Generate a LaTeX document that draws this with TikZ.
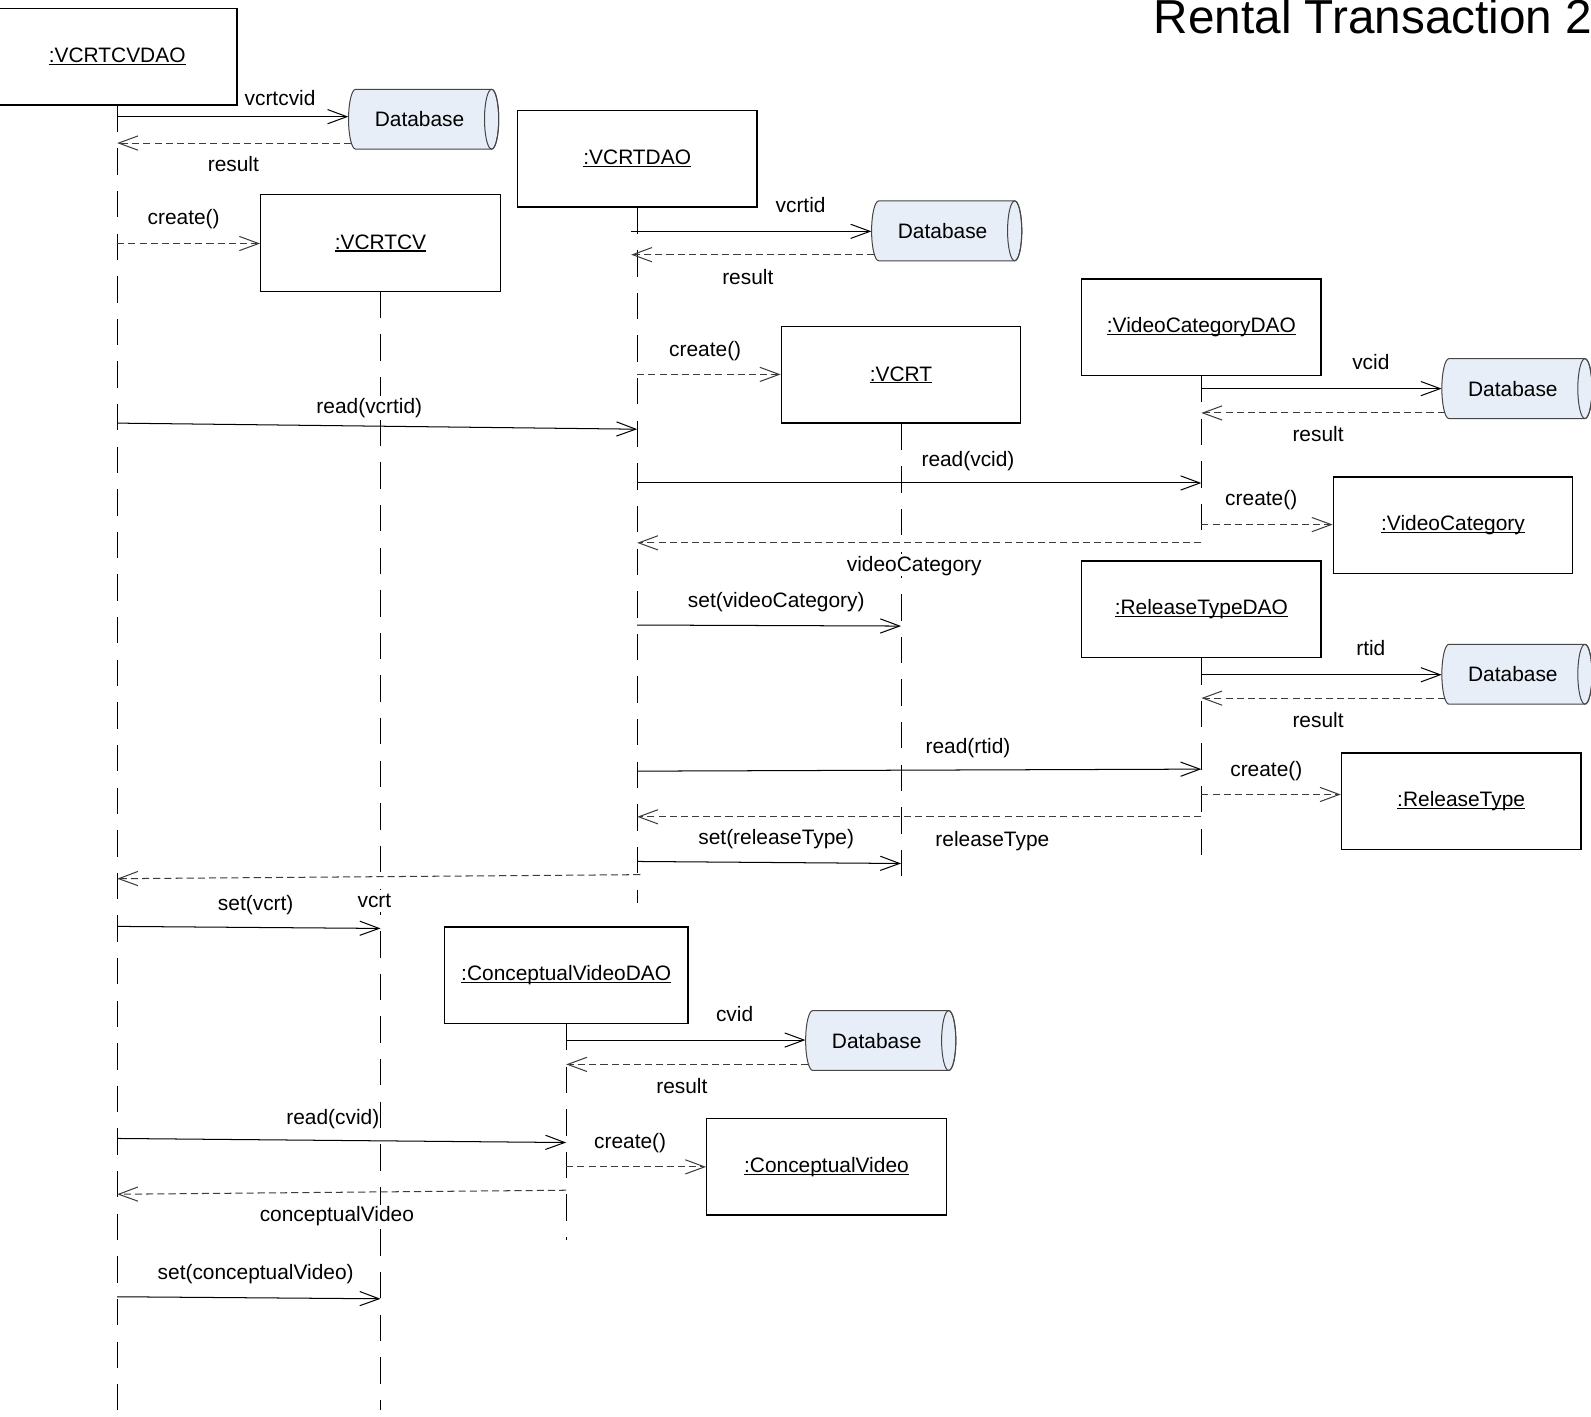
\documentclass[tikz,border=0pt]{standalone}
\usepackage{fontspec}
\setmainfont{Liberation Sans}
\usetikzlibrary{arrows.meta,calc}

\definecolor{dbfill}{RGB}{232,238,248}
\definecolor{dbedge}{RGB}{70,70,70}
\definecolor{retline}{RGB}{60,60,60}

\newcommand\lblfont{\fontsize{20.6}{24}\selectfont}
% object name with an underline at a fixed distance below the baseline
\newcommand\objname[1]{\setbox0=\hbox{#1}\rlap{\rule[-2.4pt]{\wd0}{1.1pt}}\box0}

% horizontal database cylinder: name, centre x, centre y
\newcommand\dbase[3]{%
  \filldraw[dbshape] ({#2-67},{#3-29.5}) -- ({#2+67},{#3-29.5})
    arc[start angle=270,end angle=450,x radius=7,y radius=29.5]
    -- ({#2-67},{#3+29.5})
    arc[start angle=90,end angle=270,x radius=7,y radius=29.5] -- cycle;
  \draw[dbshape,fill=none] ({#2+67},#3) ellipse[x radius=7,y radius=29.5];
  \node[dbnode] (#1) at (#2,#3) {Database\hspace*{8pt}};
}

\begin{document}
\begin{tikzpicture}[x=1pt,y=-1pt,
  obj/.style={draw=black, line width=1.3pt, fill=white, minimum width=236pt,
    minimum height=95pt, inner sep=0pt, font=\lblfont},
  dbshape/.style={draw=dbedge, fill=dbfill, line width=1pt},
  dbnode/.style={rectangle, minimum width=148pt, minimum height=59pt,
    inner sep=0pt, font=\lblfont},
  life/.style={draw=black, line width=1pt, dash pattern=on 26pt off 16pt},
  msg/.style={draw=black, line width=1pt, -{Straight Barb[length=19pt,width=14pt]}},
  ret/.style={msg, draw=retline, dash pattern=on 7pt off 4pt},
  lbl/.style={font=\lblfont, fill=white, inner xsep=1pt, inner ysep=2pt,
    text height=14.8pt, text depth=2.5pt},
]
\useasboundingbox (0,0) rectangle (1568,1396);
\fill[white] (0,0) rectangle (1568,1396);

% title
\node[font=\fontsize{47}{56}\selectfont, anchor=base west, inner sep=0pt]
  (title) at (1137,33) {Rental Transaction 2};

% objects
\node[obj] (o1)  at (115.5,56)   {\objname{:VCRTCVDAO}};
\node[obj] (o2)  at (375,239.5)  {\objname{:VCRTCV}};
\node[obj] (o3)  at (628,156.5)  {\objname{:VCRTDAO}};
\node[obj] (o4)  at (888,369.5)  {\objname{:VCRT}};
\node[obj] (o5)  at (1184,322.5) {\objname{:VideoCategoryDAO}};
\node[obj] (o6)  at (1432,517.5) {\objname{:VideoCategory}};
\node[obj] (o7)  at (1184,600.5) {\objname{:ReleaseTypeDAO}};
\node[obj] (o8)  at (1440,789.5) {\objname{:ReleaseType}};
\node[obj, minimum width=240pt] (o9) at (558,961) {\objname{:ConceptualVideoDAO}};
\node[obj] (o10) at (814.5,1150) {\objname{:ConceptualVideo}};

% databases
\dbase{db1}{417.5}{117.5}
\dbase{db2}{933}{227.5}
\dbase{db3}{1495}{383}
\dbase{db4}{1495}{664.5}
\dbase{db5}{868}{1025.5}

% lifelines
\coordinate (e1) at (o1.center |- 0,1390);
\coordinate (e2) at (o2.center |- 0,1390);
\coordinate (e3) at (o3.center |- 0,890);
\coordinate (e4) at (o4.center |- 0,866);
\coordinate (e5) at (o5.center |- 0,535);
\coordinate (e7) at (o7.center |- 0,845);
\coordinate (e9) at (o9.center |- 0,1222);
\draw[life] (o1.south) -- (e1);
\draw[life] (o2.south) -- (e2);
\draw[life] (o3.south) -- (e3);
\draw[life] (o4.south) -- (e4);
\draw[life] (o5.south) -- (e5);
\draw[life] (o7.south) -- (e7);
\draw[life] (o9.south) -- (e9);

% messages of :VCRTCVDAO
\draw[msg] (o1.center |- 0,115) -- (db1.west |- 0,115);
\draw[ret] ($(db1.west |- 0,141)+(3,0)$) -- (o1.center |- 0,141);
\draw[ret] (o1.center |- 0,240) -- (o2.west |- 0,240);
\draw[msg] (o1.center |- 0,417) -- (o3.center |- 0,423);

% messages of :VCRTDAO
\draw[msg] ($(o3.center |- 0,228)+(-6,0)$) -- (db2.west |- 0,228);
\draw[ret] ($(db2.west |- 0,251)+(3,0)$) -- ($(o3.center |- 0,251)+(-6,0)$);
\draw[ret] (o3.center |- 0,369) -- (o4.west |- 0,369);
\draw[msg] (o3.center |- 0,476) -- (o5.center |- 0,476);

% messages of :VideoCategoryDAO
\draw[msg] (o5.center |- 0,383) -- (db3.west |- 0,383);
\draw[ret] ($(db3.west |- 0,407)+(3,0)$) -- (o5.center |- 0,407);
\draw[ret] (o5.center |- 0,517) -- (o6.west |- 0,517);
\draw[ret] (o5.center |- 0,535) -- (o3.center |- 0,535);
\draw[msg] (o3.center |- 0,616) -- (o4.center |- 0,617);

% messages of :ReleaseTypeDAO
\draw[msg] (o7.center |- 0,665) -- (db4.west |- 0,665);
\draw[ret] ($(db4.west |- 0,688)+(3,0)$) -- (o7.center |- 0,688);
\draw[msg] (o3.center |- 0,760) -- (o7.center |- 0,758);
\draw[ret] (o7.center |- 0,783) -- (o8.west |- 0,783);
\draw[ret] (o7.center |- 0,805) -- (o3.center |- 0,805);
\draw[msg] (o3.center |- 0,849) -- (o4.center |- 0,851);

% back to :VCRTCVDAO
\draw[ret] ($(o3.center |- 0,862)+(3,0)$) -- (o1.center |- 0,866);
\draw[msg] (o1.center |- 0,913) -- (o2.center |- 0,915);

% messages of :ConceptualVideoDAO
\draw[msg] (o9.center |- 0,1025) -- (db5.west |- 0,1025);
\draw[ret] ($(db5.west |- 0,1049)+(3,0)$) -- (o9.center |- 0,1049);
\draw[msg] (o1.center |- 0,1122) -- (o9.center |- 0,1126);
\draw[ret] (o9.center |- 0,1150) -- (o10.west |- 0,1150);
\draw[ret] (o9.center |- 0,1173) -- (o1.center |- 0,1177);
\draw[msg] (o1.center |- 0,1278) -- (o2.center |- 0,1280);

% message labels
\node[lbl] (t1)  at (276,98)   {vcrtcvid};
\node[lbl] (t2)  at (230,163)  {result};
\node[lbl] (t3)  at (181,215)  {create()};
\node[lbl] (t4)  at (789,203)  {vcrtid};
\node[lbl] (t5)  at (737,274)  {result};
\node[lbl] (t6)  at (695,345)  {create()};
\node[lbl] (t7)  at (364,401)  {read(vcrtid)};
\node[lbl] (t8)  at (954,454)  {read(vcid)};
\node[lbl] (t9)  at (1351,358) {vcid};
\node[lbl] (t10) at (1299,429) {result};
\node[lbl] (t11) at (1243,492) {create()};
\node[lbl] (t12) at (901,557)  {videoCategory};
\node[lbl] (t13) at (765,593)  {set(videoCategory)};
\node[lbl] (t14) at (1351,640) {rtid};
\node[lbl] (t15) at (1299,711) {result};
\node[lbl] (t16) at (954,736)  {read(rtid)};
\node[lbl] (t17) at (1248,759) {create()};
\node[lbl] (t18) at (978,828)  {releaseType};
\node[lbl] (t19) at (765,826)  {set(releaseType)};
\node[lbl] (t20) at (369,888)  {vcrt};
\node[lbl] (t21) at (252,891)  {set(vcrt)};
\node[lbl] (t22) at (724,1001) {cvid};
\node[lbl] (t23) at (672,1072) {result};
\node[lbl] (t24) at (328,1102) {read(cvid)};
\node[lbl] (t25) at (621,1126) {create()};
\node[lbl] (t26) at (332,1198) {conceptualVideo};
\node[lbl] (t27) at (252,1255) {set(conceptualVideo)};
\end{tikzpicture}
\end{document}
